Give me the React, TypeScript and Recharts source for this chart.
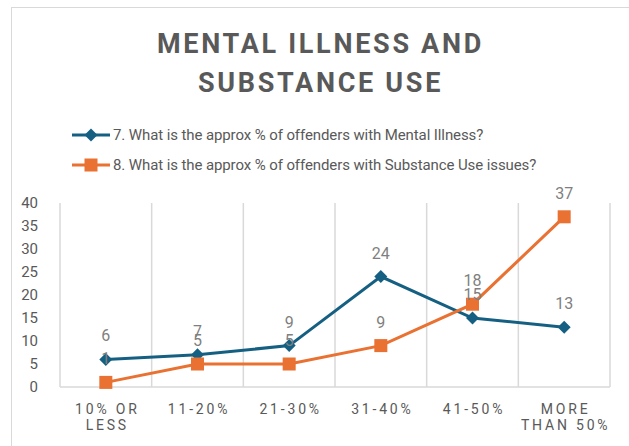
import { LineChart, Line, XAxis, YAxis, ReferenceLine, LabelList } from 'recharts';

const categories = ['10% OR\nLESS', '11-20%', '21-30%', '31-40%', '41-50%', 'MORE\nTHAN 50%'];
const mentalIllness = [6, 7, 9, 24, 15, 13];
const substanceUse = [1, 5, 5, 9, 18, 37];
const yTicks = [0, 5, 10, 15, 20, 25, 30, 35, 40];

const SERIES = [
  { key: 'mental', name: '7. What is the approx % of offenders with Mental Illness?', color: '#156082', shape: 'diamond' },
  { key: 'substance', name: '8. What is the approx % of offenders with Substance Use issues?', color: '#E97132', shape: 'square' },
];

const data = categories.map((c, i) => ({
  x: i + 0.5,
  label: c,
  mental: mentalIllness[i],
  substance: substanceUse[i],
}));

const FONT = 'Roboto, "Open Sans", sans-serif';
const AXIS_GRAY = '#595959';

function Diamond(props: any) {
  const { cx, cy, fill } = props;
  if (cx == null || cy == null) return null;
  const r = 6.5;
  return <path d={`M${cx},${cy - r}L${cx + r},${cy}L${cx},${cy + r}L${cx - r},${cy}Z`} fill={fill} />;
}

function Square(props: any) {
  const { cx, cy, fill } = props;
  if (cx == null || cy == null) return null;
  const s = 13;
  return <rect x={cx - s / 2} y={cy - s / 2} width={s} height={s} fill={fill} />;
}

function XTick(props: any) {
  const { x, y, payload } = props;
  const idx = Math.round(payload.value - 0.5);
  const lines = (categories[idx] || '').split('\n');
  return (
    <text x={x} y={y} textAnchor="middle" fill={AXIS_GRAY} fontSize={14} fontFamily={FONT} letterSpacing={2.8}>
      {lines.map((l, i) => (
        <tspan key={i} x={x + 1.5} dy={i === 0 ? 19 : 16}>{l}</tspan>
      ))}
    </text>
  );
}

function LegendBlock() {
  return (
    <div style={{ position: 'absolute', left: 70, top: 120, fontFamily: FONT, fontSize: 15, color: AXIS_GRAY }}>
      {SERIES.map((s) => (
        <div key={s.key} style={{ display: 'flex', alignItems: 'center', height: 30 }}>
          <svg width={42} height={16} style={{ marginRight: 1 }}>
            <line x1={2} y1={8} x2={40} y2={8} stroke={s.color} strokeWidth={3} />
            {s.shape === 'diamond' ? <Diamond cx={21} cy={8} fill={s.color} /> : <Square cx={21} cy={8} fill={s.color} />}
          </svg>
          <span style={{ letterSpacing: -0.1 }}>{s.name}</span>
        </div>
      ))}
    </div>
  );
}

export default function App() {
  return (
    <div style={{ position: 'absolute', left: 0, top: 0, width: 629, height: 446, overflow: 'hidden', background: '#fff' }}>
      <div style={{ position: 'absolute', left: 11, top: 7, width: 640, height: 470, border: '1px solid #d9d9d9' }} />
      <div
        style={{
          position: 'absolute', left: 0, top: 25, width: 641, textAlign: 'center',
          fontFamily: FONT, fontWeight: 700, fontSize: 27, letterSpacing: 2.7, lineHeight: '39px', color: AXIS_GRAY,
        }}
      >
        MENTAL ILLNESS AND
        <br />
        SUBSTANCE USE
      </div>
      <LegendBlock />
      <div style={{ position: 'absolute', left: 0, top: 0 }}>
        <LineChart width={629} height={446} data={data} margin={{ top: 203, right: 19, bottom: 0, left: 0 }}>
          <XAxis
            dataKey="x"
            type="number"
            domain={[0, 6]}
            ticks={data.map((d) => d.x)}
            tick={<XTick />}
            tickLine={false}
            axisLine={{ stroke: '#d9d9d9', strokeWidth: 1.5 }}
            height={59}
            interval={0}
          />
          <YAxis
            domain={[0, 40]}
            ticks={yTicks}
            width={60}
            axisLine={false}
            tickLine={false}
            tick={{ fill: AXIS_GRAY, fontSize: 15, fontFamily: FONT }}
            tickMargin={16}
          />
          {[0, 1, 2, 3, 4, 5, 6].map((v) => (
            <ReferenceLine key={v} x={v} stroke="#d9d9d9" strokeWidth={1.5} />
          ))}
          <Line
            dataKey="mental"
            name={SERIES[0].name}
            stroke={SERIES[0].color}
            strokeWidth={3}
            dot={<Diamond fill={SERIES[0].color} />}
            activeDot={false}
            isAnimationActive={false}
          >
            <LabelList dataKey="mental" position="top" offset={18} fill="#7f7f7f" fontSize={16} fontFamily={FONT} />
          </Line>
          <Line
            dataKey="substance"
            name={SERIES[1].name}
            stroke={SERIES[1].color}
            strokeWidth={3}
            dot={<Square fill={SERIES[1].color} />}
            activeDot={false}
            isAnimationActive={false}
          >
            <LabelList dataKey="substance" position="top" offset={18} fill="#7f7f7f" fontSize={16} fontFamily={FONT} />
          </Line>
        </LineChart>
      </div>
    </div>
  );
}
